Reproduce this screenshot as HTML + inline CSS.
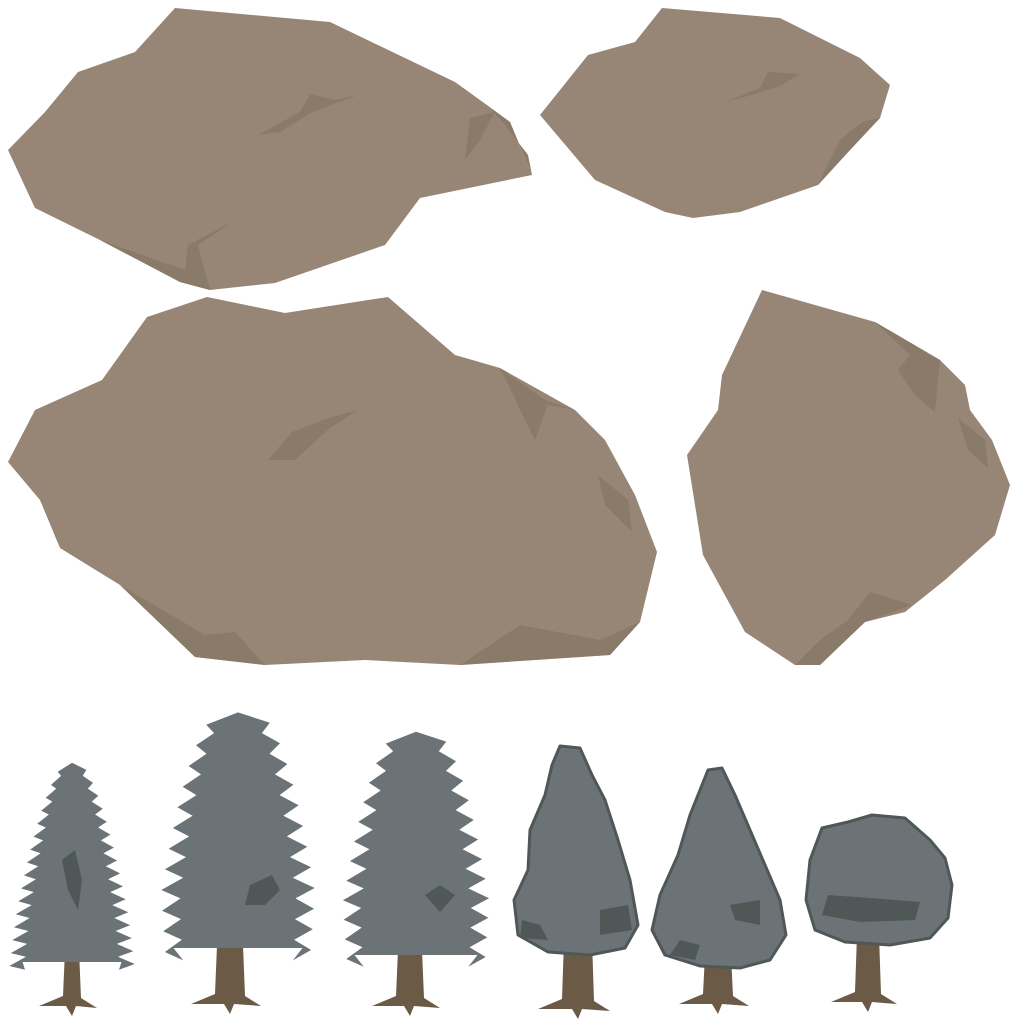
<!DOCTYPE html>
<html><head><meta charset="utf-8"><style>html,body{margin:0;padding:0;background:#fff;width:1024px;height:1024px;overflow:hidden}</style></head>
<body>
<svg id="scene" width="1024" height="1024" viewBox="0 0 1024 1024" xmlns="http://www.w3.org/2000/svg">
<g>
<polygon fill="#978676" points="175,8 330,22 455,82 510,122 532,175 420,198 385,245 275,283 210,290 180,282 100,240 35,208 8,150 45,112 78,72 135,52"/>
<polygon fill="#8a7a6a" points="455,82 510,122 532,175 528,155 505,125 490,108"/>
<polygon fill="#8a7a6a" points="100,240 180,282 210,290 198,245 232,222 188,245 185,270"/>
<polygon fill="#8a7a6a" points="258,135 300,112 310,94 335,100 358,95 312,112 280,132"/>
<polygon fill="#8a7a6a" points="470,118 495,112 480,140 465,160"/>
</g>
<g>
<polygon fill="#978676" points="662,8 780,18 860,58 890,85 880,118 850,150 818,185 740,212 693,218 665,212 595,180 540,115 588,55 635,42"/>
<polygon fill="#8a7a6a" points="725,102 760,88 768,72 800,74 780,86 748,96"/>
<polygon fill="#8a7a6a" points="880,118 850,150 818,185 840,140 862,122"/>
</g>
<g>
<polygon fill="#978676" points="207,297 285,313 388,297 455,355 500,368 575,410 605,440 635,495 657,552 640,622 610,655 460,665 365,660 265,665 195,657 120,585 60,548 40,500 8,462 35,410 102,380 147,317"/>
<polygon fill="#8a7a6a" points="500,368 545,400 575,410 548,405 535,440"/>
<polygon fill="#8a7a6a" points="268,460 292,432 328,418 358,410 330,428 295,460"/>
<polygon fill="#8a7a6a" points="598,475 628,500 632,532 605,505"/>
<polygon fill="#8a7a6a" points="120,585 195,657 265,665 235,632 205,635"/>
<polygon fill="#8a7a6a" points="460,665 520,625 600,640 640,622 610,655"/>
</g>
<g>
<polygon fill="#978676" points="762,290 875,322 940,360 965,385 970,410 992,440 1010,485 995,535 945,580 905,612 865,622 820,665 795,665 745,632 703,555 687,455 718,410 722,375"/>
<polygon fill="#8a7a6a" points="875,322 940,360 935,412 915,395 898,370 910,355"/>
<polygon fill="#8a7a6a" points="958,418 985,440 988,468 968,450"/>
<polygon fill="#8a7a6a" points="795,665 820,640 848,620 870,592 912,605 865,622 820,665"/>
</g>
<g id="trees"></g>
</svg>
<script>
const NS='http://www.w3.org/2000/svg';
const trees=document.getElementById('trees');
function mk(tag,attrs,parent){const e=document.createElementNS(NS,tag);for(const k in attrs)e.setAttribute(k,attrs[k]);parent.appendChild(e);return e;}
function trunk(g,cx,top,bot,w){
  const p=[[cx-w/2,top],[cx+w/2,top],[cx+w/2+2,bot-14],[cx+w/2+18,bot-4],[cx+4,bot-6],[cx,bot+4],[cx-6,bot-6],[cx-w/2-26,bot-6],[cx-w/2-2,bot-16]];
  const t=mk('polygon',{points:p.map(a=>a.join(',')).join(' '),fill:'#6b5a45'},g);
  
  
}
function conifer(g,cx,top,bot,maxW,n,shape,taper){
  const L=[],R=[];
  for(let i=0;i<=n;i++){
    const f=i/n;const y=top+(bot-top)*f;
    let w=maxW*Math.pow(f,shape);
    if(f>0.75) w*=1-taper*(f-0.75)/0.25;
    const inner=w*0.75;
    L.push([cx-w,y+4]);L.push([cx-inner,y+(bot-top)/n*0.6]);
    R.push([cx+w,y+2]);R.push([cx+inner,y+(bot-top)/n*0.6]);
  }
  const pts=[[cx,top-6]].concat(R,[[cx+maxW*0.75,bot],[cx-maxW*0.75,bot]],L.reverse());
  const p=mk('polygon',{points:pts.map(a=>a[0].toFixed(1)+','+a[1].toFixed(1)).join(' '),fill:'#6b7376'},g);
  
  
}
function blob(g,pts,fill){const p=mk('polygon',{points:pts.map(a=>a.join(',')).join(' '),fill:fill,stroke:'#4f5857','stroke-width':3,'stroke-linejoin':'round'},g);
  
  return p;}
function mark(g,pts){const p=mk('polygon',{points:pts.map(a=>a.join(',')).join(' '),fill:'#4f5857'},g);
  
  }

let g;
g=mk('g',{},trees);
trunk(g,72,950,1012,14);conifer(g,72,755,962,66,16,0.55,0.05);
mark(g,[[62,860],[75,850],[82,880],[78,910],[68,890]]);

g=mk('g',{},trees);
trunk(g,230,945,1010,26);conifer(g,238,700,948,86,12,0.4,0.15);
mark(g,[[250,885],[272,875],[280,890],[265,905],[245,905]]);

g=mk('g',{},trees);
trunk(g,410,950,1012,24);conifer(g,416,720,955,82,12,0.4,0.15);
mark(g,[[425,895],[440,885],[455,895],[440,912]]);

g=mk('g',{},trees);
trunk(g,578,940,1015,28);
blob(g,[[560,746],[580,748],[592,775],[605,800],[618,840],[630,880],[638,925],[625,948],[590,955],[548,952],[518,935],[514,900],[528,870],[530,830],[545,795],[552,765]],'#6b7376');
mark(g,[[600,910],[628,905],[632,930],[600,935]]);mark(g,[[522,920],[540,925],[548,940],[520,938]]);

g=mk('g',{},trees);
trunk(g,718,955,1010,26);
blob(g,[[708,770],[722,768],[735,795],[750,830],[765,865],[780,900],[786,935],[770,960],[740,968],[700,966],[665,955],[652,930],[660,895],[678,855],[690,815],[700,790]],'#6b7376');
mark(g,[[730,905],[760,900],[760,925],[735,920]]);mark(g,[[680,940],[700,945],[695,960],[670,955]]);

g=mk('g',{},trees);
trunk(g,868,935,1008,22);
blob(g,[[822,828],[848,822],[872,815],[905,818],[930,840],[945,858],[952,885],[948,918],[930,938],[890,945],[845,942],[815,930],[806,900],[810,860]],'#6b7376');
mark(g,[[828,895],[870,898],[920,902],[915,920],[860,922],[822,915]]);
</script>
</body></html>
